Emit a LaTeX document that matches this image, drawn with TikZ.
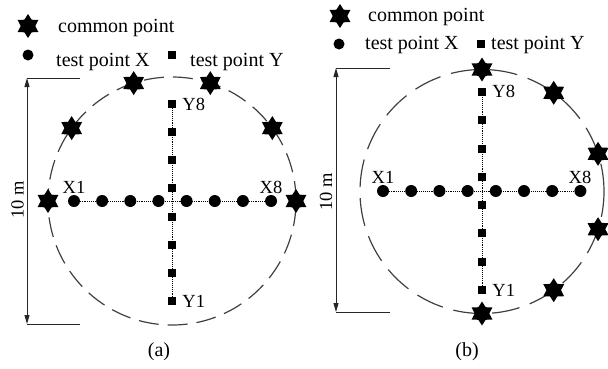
\documentclass[tikz,border=0pt]{standalone}
\usepackage{fontspec}
\setmainfont{Liberation Serif}
\usetikzlibrary{shapes.geometric,arrows.meta}
\begin{document}
\begin{tikzpicture}[x=1pt,y=-1pt,
 cstar/.style={star,star points=6,star point ratio=1.65,minimum size=24pt,inner sep=0pt,fill=black,draw=none},
 tdot/.style={circle,fill=black,minimum size=12pt,inner sep=0pt},
 tsq/.style={rectangle,fill=black,minimum size=8pt,inner sep=0pt},
 lbl/.style={font=\fontsize{18.5}{20}\selectfont,inner sep=0pt},
 legtxt/.style={font=\fontsize{20}{22}\selectfont,inner sep=0pt,anchor=base west},
 captxt/.style={font=\fontsize{20}{22}\selectfont,inner sep=0pt},
 dotline/.style={densely dotted,line width=0.9pt},
 dim/.style={line width=0.9pt,draw=black!85},
 dimarrow/.style={dim,{Triangle[length=9pt,width=5pt]}-{Triangle[length=9pt,width=5pt]}},
 ring/.style={circle,inner sep=0pt,outer sep=0pt,line width=1.2pt,draw=black!75}]
\useasboundingbox (0,0) rectangle (608,368);

% ---------------- panel (a) ----------------
% legend
\node[cstar] (la-star) at (28,26) {};
\node[legtxt] (la-star-t) at (58,32) {common point};
\node[tdot,minimum size=11pt] (la-dot) at (28,55) {};
\node[legtxt] (la-dot-t) at (56,66) {test point X};
\node[tsq] (la-sq) at (172,55) {};
\node[legtxt] (la-sq-t) at (190,66) {test point Y};

% ring
\node[ring,dash pattern=on 20pt off 9pt,minimum size=248pt] (ringA) at (172,201) {};
\foreach \a [count=\i] in {0,36,72,108,144,180}
  \node[cstar] (sa\i) at (ringA.\a) {};

% dimension
\coordinate (dimAt) at (27,78);
\coordinate (dimAb) at (27,324);
\coordinate (dimAtr) at (80,78);
\coordinate (dimAbr) at (80,324);
\draw[dim] (dimAt) -- (dimAtr);
\draw[dim] (dimAb) -- (dimAbr);
\draw[dimarrow] (dimAt) -- (dimAb);
\node[lbl,rotate=90] (dimAlbl) at (17.5,200) {10 m};

% test points
\foreach \i in {1,...,8}
  \node[tdot] (xa\i) at ({74+28.15*(\i-1)},201) {};
\foreach \i in {1,...,8}
  \node[tsq] (ya\i) at (172,{301-28.15*(\i-1)}) {};
\draw[dotline] (xa1.center) -- (xa8.center);
\draw[dotline] (ya1.center) -- (ya8.center);
\node[lbl,anchor=base] (xa1l) at (74,193) {X1};
\node[lbl,anchor=base] (xa8l) at (271,193) {X8};
\node[lbl,anchor=west] (ya8l) at ([xshift=6pt]ya8.east) {Y8};
\node[lbl,anchor=west] (ya1l) at ([xshift=6pt]ya1.east) {Y1};
\node[captxt] (capA) at (159,352) {(a)};

% ---------------- panel (b) ----------------
\node[cstar] (lb-star) at (340,16) {};
\node[legtxt] (lb-star-t) at (368,21) {common point};
\node[tdot,minimum size=11pt] (lb-dot) at (339,44) {};
\node[legtxt] (lb-dot-t) at (365,49) {test point X};
\node[tsq] (lb-sq) at (481,44) {};
\node[legtxt] (lb-sq-t) at (491,49) {test point Y};

\node[ring,dash pattern=on 28pt off 11pt,minimum size=244pt] (ringB) at (482,191.5) {};
\foreach \a [count=\i] in {90,54,18,-18,-54,-90}
  \node[cstar] (sb\i) at (ringB.\a) {};

\coordinate (dimBt) at (336,68);
\coordinate (dimBb) at (336,312);
\coordinate (dimBtr) at (390,68);
\coordinate (dimBbr) at (390,312);
\draw[dim] (dimBt) -- (dimBtr);
\draw[dim] (dimBb) -- (dimBbr);
\draw[dimarrow] (dimBt) -- (dimBb);
\node[lbl,rotate=90] (dimBlbl) at (326,192) {10 m};

\foreach \i in {1,...,8}
  \node[tdot] (xb\i) at ({383+28.2*(\i-1)},191) {};
\foreach \i in {1,...,8}
  \node[tsq] (yb\i) at (482,{290-28.3*(\i-1)}) {};
\draw[dotline] (xb1.center) -- (xb8.center);
\draw[dotline] (yb1.center) -- (yb8.center);
\node[lbl,anchor=base] (xb1l) at (383,183) {X1};
\node[lbl,anchor=base] (xb8l) at (580,183) {X8};
\node[lbl,anchor=west] (yb8l) at ([xshift=6pt]yb8.east) {Y8};
\node[lbl,anchor=west] (yb1l) at ([xshift=6pt]yb1.east) {Y1};
\node[captxt] (capB) at (467,352) {(b)};
\end{tikzpicture}
\end{document}
